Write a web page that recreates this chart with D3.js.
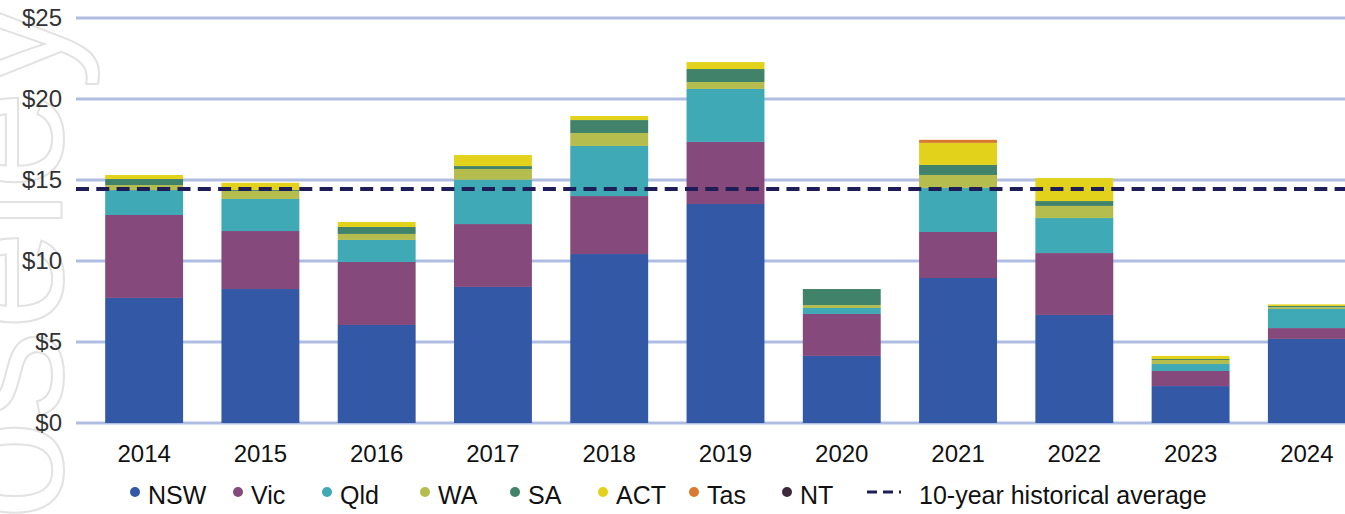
<!DOCTYPE html>
<html>
<head>
<meta charset="utf-8">
<script src="https://cdn.jsdelivr.net/npm/d3@7"></script>
<style>
  body { margin: 0; background: #fff; }
  svg { display: block; font-family: 'Liberation Sans', Arial, sans-serif; }
</style>
</head>
<body>
<svg id="chart" width="1345" height="514"></svg>
<script>
const years = ['2014', '2015', '2016', '2017', '2018', '2019', '2020', '2021', '2022', '2023', '2024'];
const nsw = [7.72, 8.27, 6.05, 8.40, 10.43, 13.52, 4.14, 8.95, 6.67, 2.28, 5.19];
const vic = [5.12, 3.58, 3.89, 3.88, 3.58, 3.83, 2.59, 2.84, 3.82, 0.93, 0.67];
const qld = [1.54, 1.98, 1.36, 2.74, 3.09, 3.27, 0.37, 2.72, 2.16, 0.43, 1.18];
const wa = [0.31, 0.49, 0.37, 0.66, 0.80, 0.43, 0.18, 0.80, 0.75, 0.25, 0.10];
const sa = [0.37, 0.06, 0.43, 0.18, 0.80, 0.80, 0.99, 0.62, 0.30, 0.06, 0.08];
const act = [0.25, 0.45, 0.31, 0.68, 0.25, 0.43, 0.00, 1.36, 1.42, 0.19, 0.10];
const tas = [0, 0, 0, 0, 0, 0, 0, 0.19, 0, 0, 0];
const nt = [0, 0, 0, 0, 0, 0, 0, 0, 0, 0, 0];
const historicalAverage = 14.45;
const yTicks = [0, 5, 10, 15, 20, 25];

const seriesNames = ['NSW', 'Vic', 'Qld', 'WA', 'SA', 'ACT', 'Tas', 'NT'];
const seriesValues = [nsw, vic, qld, wa, sa, act, tas, nt];
const colors = ['#3358a6', '#85497b', '#3fa9b5', '#b5bd4f', '#41836a', '#e2d21b', '#d97b2f', '#3c2a3c'];

const svg = d3.select('#chart');
const margin = { top: 18, bottom: 91, left: 76 };
const height = 514;

// faint watermark running up the left edge
svg.append('text')
  .attr('transform', 'translate(62,0)rotate(-90)')
  .attr('text-anchor', 'end')
  .attr('font-size', 180)
  .attr('fill', 'none')
  .attr('stroke', '#e2e2e2')
  .attr('stroke-width', 2)
  .text('Moseley');

const rows = years.map((y, i) => {
  const r = { year: y };
  seriesNames.forEach((s, j) => { r[s] = seriesValues[j][i]; });
  return r;
});

const x = d3.scaleBand()
  .domain(years)
  .range([86, 1365])
  .paddingInner(0.33)
  .paddingOuter(0.165);

const y = d3.scaleLinear()
  .domain([0, 25])
  .range([height - margin.bottom, margin.top]);

// gridlines
svg.append('g')
  .selectAll('line')
  .data(yTicks).enter().append('line')
  .attr('x1', margin.left)
  .attr('x2', 1345)
  .attr('y1', d => y(d))
  .attr('y2', d => y(d))
  .attr('stroke', '#b0bde2')
  .attr('stroke-width', 3);

// y labels
svg.append('g')
  .selectAll('text')
  .data(yTicks).enter().append('text')
  .attr('x', 62)
  .attr('y', d => y(d))
  .attr('dy', '0.35em')
  .attr('text-anchor', 'end')
  .attr('font-size', 24)
  .attr('fill', '#333')
  .text(d => '$' + d);

const stack = d3.stack().keys(seriesNames)(rows);

svg.append('g')
  .selectAll('g')
  .data(stack).enter().append('g')
  .attr('fill', (d, i) => colors[i])
  .selectAll('rect')
  .data(d => d).enter().append('rect')
  .attr('x', d => x(d.data.year))
  .attr('y', d => y(d[1]))
  .attr('height', d => y(d[0]) - y(d[1]))
  .attr('width', x.bandwidth());

// average line
svg.append('line')
  .attr('x1', margin.left)
  .attr('x2', 1345)
  .attr('y1', y(historicalAverage))
  .attr('y2', y(historicalAverage))
  .attr('stroke', '#1f1d58')
  .attr('stroke-width', 4)
  .attr('stroke-dasharray', '13,7.3');

// x labels
svg.append('g')
  .selectAll('text')
  .data(years).enter().append('text')
  .attr('x', d => x(d) + x.bandwidth() / 2)
  .attr('y', 462)
  .attr('text-anchor', 'middle')
  .attr('font-size', 24)
  .attr('fill', '#111')
  .text(d => d);

// legend
const legendX = [135, 238, 327, 425, 515, 603, 694, 787];
const legend = svg.append('g');
seriesNames.forEach((s, i) => {
  legend.append('circle')
    .attr('cx', legendX[i])
    .attr('cy', 492)
    .attr('r', 5)
    .attr('fill', colors[i]);
  legend.append('text')
    .attr('x', legendX[i] + 13)
    .attr('y', 504)
    .attr('font-size', 25)
    .attr('fill', '#111')
    .text(s);
});
legend.append('line')
  .attr('x1', 867)
  .attr('x2', 901)
  .attr('y1', 492)
  .attr('y2', 492)
  .attr('stroke', '#1f1d58')
  .attr('stroke-width', 3)
  .attr('stroke-dasharray', '10,6');
legend.append('text')
  .attr('x', 919)
  .attr('y', 504)
  .attr('font-size', 25)
  .attr('fill', '#111')
  .text('10-year historical average');
</script>
</body>
</html>
